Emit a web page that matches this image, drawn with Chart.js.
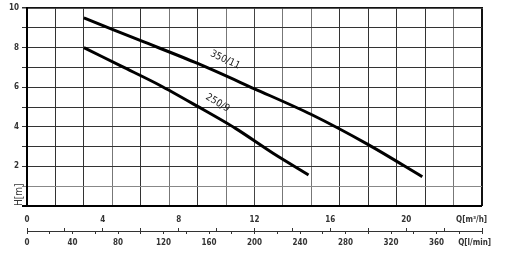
<!DOCTYPE html>
<html>
<head>
<meta charset="utf-8">
<script src="https://cdn.jsdelivr.net/npm/chart.js@4"></script>
<style>
  body { margin: 0; background: #fff; }
  #wrap { width: 513px; height: 255px; }
</style>
</head>
<body>
<div id="wrap"><canvas id="pumpChart" width="513" height="255"></canvas></div>
<script>
// pump curves, Q in m3/h, H in m
var q350 = [3, 6, 9, 12, 15, 18, 20.85];
var h350 = [9.5, 8.35, 7.2, 5.92, 4.62, 3.1, 1.48];
var q250 = [3, 5, 7, 9, 11, 13, 14.85];
var h250 = [8.0, 7.05, 6.1, 5.03, 3.92, 2.65, 1.57];
var curveNames = ['350/11', '250/9'];

// tick labels
var qM3Labels = [0, 4, 8, 12, 16, 20];
var qLminLabels = [0, 40, 80, 120, 160, 200, 240, 280, 320, 360];
var hLabels = [2, 4, 6, 8, 10];

var FONT = "'DejaVu Sans Condensed', 'Liberation Sans Narrow', 'DejaVu Sans', sans-serif";
Chart.defaults.font.family = FONT;
Chart.defaults.font.size = 8;
Chart.defaults.font.weight = 'bold';
Chart.defaults.color = '#333';

function pts(xs, ys) {
	return xs.map(function (x, i) { return { x: x, y: ys[i] }; });
}

// where the curve names sit (data units) and their slant
var nameSpots = [
	{ x: 10.45, y: 7.38, angle: 25 },
	{ x: 10.05, y: 5.2, angle: 31 }
];

var vGridColors = ['#000', '#333', '#333', '#777', '#333', '#777', '#333', '#777', '#444',
	'#777', '#777', '#333', '#333', '#333', '#333', '#777', '#111'];

var curveNamePlugin = {
	id: 'curveNames',
	afterDatasetsDraw: function (chart) {
		var ctx = chart.ctx;
		var xs = chart.scales.xm, ys = chart.scales.y;
		ctx.save();
		ctx.font = '10px ' + FONT;
		ctx.fillStyle = '#222';
		ctx.textAlign = 'center';
		ctx.textBaseline = 'middle';
		curveNames.forEach(function (name, i) {
			var s = nameSpots[i];
			ctx.save();
			ctx.translate(xs.getPixelForValue(s.x), ys.getPixelForValue(s.y));
			ctx.rotate(s.angle * Math.PI / 180);
			ctx.fillText(name, 0, 0);
			ctx.restore();
		});
		ctx.restore();
	}
};

var ctx = document.getElementById('pumpChart').getContext('2d');
var pumpChart = new Chart(ctx, {
	type: 'line',
	data: {
		datasets: [{
			label: curveNames[0],
			data: pts(q350, h350),
			xAxisID: 'xm',
			yAxisID: 'y',
			borderColor: '#000',
			borderWidth: 3,
			pointRadius: 0,
			tension: 0.3,
			fill: false
		}, {
			label: curveNames[1],
			data: pts(q250, h250),
			xAxisID: 'xm',
			yAxisID: 'y',
			borderColor: '#000',
			borderWidth: 3,
			pointRadius: 0,
			tension: 0.3,
			fill: false
		}]
	},
	options: {
		responsive: false,
		animation: false,
		layout: { padding: { left: 0, right: 31, top: 0, bottom: 0 } },
		plugins: {
			legend: { display: false },
			tooltip: { enabled: false }
		},
		scales: {
			// vertical grid, every 25 l/min
			xg: {
				type: 'linear',
				position: 'top',
				min: 0,
				max: 400,
				ticks: { display: false, stepSize: 25 },
				grid: {
					drawTicks: false,
					color: function (c) { return vGridColors[c.index] || '#333'; },
					lineWidth: function (c) { return (c.index === 0 || c.index === 16) ? 2 : 1; }
				},
				border: { display: true, color: '#111', width: 1.5 },
				afterFit: function (s) { s.height = 8; }
			},
			xm: {
				type: 'linear',
				position: 'bottom',
				weight: 1,
				min: 0,
				max: 24,
				afterBuildTicks: function (s) {
					s.ticks = qM3Labels.concat([23.45]).map(function (v) { return { value: v }; });
				},
				ticks: {
					autoSkip: false,
					maxRotation: 0,
					padding: 9,
					callback: function (v) { return v > 23 ? 'Q[m³/h]' : v; }
				},
				grid: { display: false, drawOnChartArea: false, drawTicks: false },
				border: { display: false },
				afterFit: function (s) { s.height = 22; }
			},
			// small upward ticks on the ruler, every 2 m3/h
			xt: {
				type: 'linear',
				position: 'bottom',
				weight: 2,
				min: 0,
				max: 24,
				ticks: { display: false, stepSize: 2 },
				grid: { drawOnChartArea: false, drawTicks: true, tickLength: 3, color: '#333' },
				border: { display: false },
				afterFit: function (s) { s.height = 3; }
			},
			xl: {
				type: 'linear',
				position: 'bottom',
				weight: 3,
				min: 0,
				max: 400,
				afterBuildTicks: function (s) {
					var t = [];
					for (var v = 0; v <= 400; v += 20) t.push({ value: v });
					t.push({ value: 393.5 });
					s.ticks = t;
				},
				ticks: {
					autoSkip: false,
					maxRotation: 0,
					padding: 4,
					callback: function (v) {
						if (v === 393.5) return 'Q[l/min]';
						return qLminLabels.indexOf(v) >= 0 ? v : '';
					}
				},
				grid: {
					drawOnChartArea: false,
					tickLength: 3,
					color: function (c) { return c.tick && c.tick.value === 393.5 ? 'rgba(0,0,0,0)' : '#333'; }
				},
				border: { display: true, color: '#333', width: 1 },
				afterFit: function (s) { s.height = 24; }
			},
			y: {
				type: 'linear',
				position: 'left',
				min: 0,
				max: 10,
				afterBuildTicks: function (s) {
					var t = [];
					for (var v = 0; v <= 10; v++) t.push({ value: v });
					s.ticks = t;
				},
				ticks: {
					padding: 3,
					callback: function (v) { return hLabels.indexOf(v) >= 0 ? v : ''; }
				},
				grid: {
					tickLength: 5,
					color: function (c) {
						if (c.tick && c.tick.value === 1) return '#888';
						if (c.tick && c.tick.value === 0) return '#000';
						return '#333';
					},
					lineWidth: function (c) {
						if (c.tick && c.tick.value === 0) return 2;
						if (c.tick && c.tick.value === 10) return 1.5;
						return 1;
					}
				},
				border: { display: true, color: '#000', width: 2 },
				title: {
					display: true,
					text: 'H[m]',
					align: 'start',
					font: { size: 10, weight: 'normal' },
					padding: { top: 13, bottom: 0 }
				},
				afterFit: function (s) { s.width = 27; }
			}
		}
	},
	plugins: [curveNamePlugin]
});
</script>
</body>
</html>
